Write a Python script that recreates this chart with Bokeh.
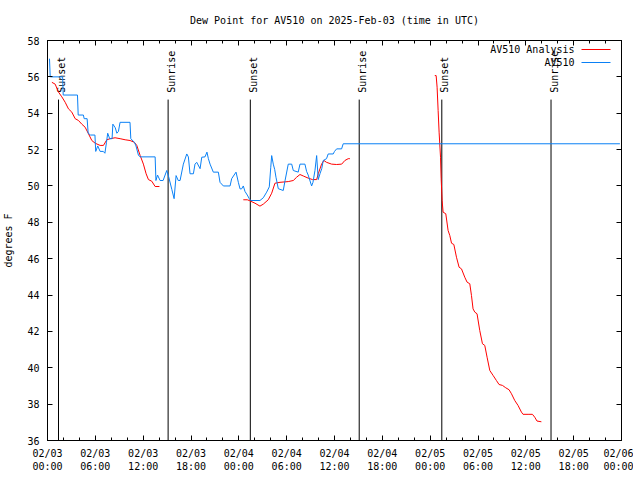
import math
from bokeh.plotting import figure
from bokeh.models import FixedTicker, LinearAxis, Range1d, Label, Arrow
from bokeh.core.properties import value
from bokeh.embed import file_html
from bokeh.resources import INLINE

FONT = "DejaVu Sans Mono"

title_text = "Dew Point for AV510 on 2025-Feb-03 (time in UTC)"
y_label = "degrees F"

# x axis: hours since 2025-02-03 00:00 UTC
x_tick_hours = [0, 6, 12, 18, 24, 30, 36, 42, 48, 54, 60, 66, 72]
x_tick_labels = ["02/03\n00:00", "02/03\n06:00", "02/03\n12:00", "02/03\n18:00",
                 "02/04\n00:00", "02/04\n06:00", "02/04\n12:00", "02/04\n18:00",
                 "02/05\n00:00", "02/05\n06:00", "02/05\n12:00", "02/05\n18:00",
                 "02/06\n00:00"]
x_minor_hours = list(range(0, 73, 2))
y_ticks = [36, 38, 40, 42, 44, 46, 48, 50, 52, 54, 56, 58]

# sunrise / sunset markers
sun_hours = [1.38, 15.13, 25.44, 39.10, 49.46, 63.16]
sun_names = ["Sunset", "Sunrise", "Sunset", "Sunrise", "Sunset", "Sunrise"]
sun_line_top = 54.75
sun_label_y = 55.12

# AV510 observations
obs_hours = [0.25, 0.34, 1.90, 1.97, 3.76, 3.85, 4.50, 4.60, 4.97, 5.10, 5.40, 5.95,
             6.05, 6.30, 6.60, 7.00, 7.20, 7.40, 7.55, 7.80, 8.10, 8.20, 8.50, 8.70,
             8.90, 9.10, 10.35, 10.45, 10.90, 11.10, 11.40, 11.60, 13.50, 13.60, 13.80,
             14.12, 14.50, 14.96, 15.20, 15.60, 15.88, 16.13, 16.40, 16.63, 17.04, 17.47,
             17.67, 17.88, 18.30, 18.50, 18.72, 19.14, 19.35, 19.76, 20.00, 20.18, 20.39,
             20.80, 21.43, 21.64, 22.06, 22.90, 23.10, 23.65, 23.94, 24.15, 24.35, 24.56,
             24.77, 25.06, 25.31, 25.50, 26.65, 27.07, 27.49, 27.82, 28.00, 28.12, 28.32,
             28.50, 28.66, 28.95, 29.57, 29.80, 30.20, 30.63, 30.83, 31.45, 31.67, 32.29,
             32.50, 32.70, 33.13, 33.30, 33.55, 33.76, 33.96, 34.20, 34.40, 34.59, 35.00,
             35.21, 35.84, 36.00, 36.27, 36.89, 37.09, 71.80]
obs_dewpt = [57.0, 56.0, 56.0, 55.0, 55.0, 53.9, 53.9, 53.7, 53.7, 52.9, 52.8, 52.8,
             51.9, 52.2, 51.9, 51.9, 51.8, 52.4, 52.9, 52.6, 52.6, 53.4, 53.2, 52.9,
             53.0, 53.5, 53.5, 52.6, 52.4, 52.2, 51.7, 51.6, 51.6, 50.3, 50.6,
             50.3, 50.3, 50.85, 50.5, 49.8, 49.3, 50.57, 50.3, 50.3, 51.2, 51.76,
             51.6, 50.67, 50.67, 51.2, 51.3, 50.95, 51.58, 51.6, 51.86, 51.5, 51.2,
             50.76, 50.76, 50.2, 50.0, 50.0, 50.4, 50.76, 50.2, 49.84, 49.84, 50.0,
             49.7, 49.5, 49.3, 49.2, 49.2, 49.35, 49.66, 49.95, 51.0, 51.67, 51.2,
             50.9, 50.48, 49.85, 49.75, 50.3, 51.2, 51.2, 50.85, 50.76, 51.2, 51.2,
             50.8, 50.6, 50.0, 50.2, 50.85, 51.67, 50.35, 50.7, 50.95, 51.4, 51.5,
             51.76, 51.76, 51.9, 52.04, 52.04, 52.32, 52.32]

# AV510 analysis (three runs)
ana1_hours = [0.55, 0.96, 1.38, 1.80, 2.22, 2.63, 3.05, 3.47, 3.89, 4.30, 4.72, 5.14,
              5.56, 5.98, 6.60, 7.02, 7.44, 7.86, 8.48, 9.11, 9.74, 10.36, 10.90, 11.20,
              11.62, 12.03, 12.37, 12.66, 13.08, 13.50, 14.04]
ana1_dewpt = [55.7, 55.6, 55.16, 54.9, 54.6, 54.24, 54.06, 53.7, 53.6, 53.4, 53.23, 52.87,
              52.5, 52.35, 52.23, 52.23, 52.54, 52.6, 52.65, 52.6, 52.54, 52.5, 52.4, 52.23,
              51.68, 51.2, 50.67, 50.35, 50.26, 49.97, 49.97]
ana2_hours = [24.56, 25.06, 25.30, 26.03, 26.65, 27.07, 27.69, 28.12, 28.53, 29.16, 30.20,
              30.83, 31.25, 31.67, 32.08, 32.70, 33.25, 33.76, 33.96, 34.38, 34.67, 35.00,
              35.64, 36.27, 36.90, 37.30, 37.72, 37.93]
ana2_dewpt = [49.24, 49.24, 49.2, 49.05, 48.89, 49.0, 49.24, 49.6, 50.15, 50.2, 50.24,
              50.3, 50.48, 50.63, 50.55, 50.43, 50.35, 50.35, 50.67, 51.2, 51.4, 51.3,
              51.2, 51.18, 51.2, 51.4, 51.5, 51.5]
ana3_hours = [48.58, 48.75, 48.87, 49.00, 49.12, 49.30, 49.38, 49.50, 49.62, 49.96, 50.25,
              50.46, 50.68, 50.97, 51.30, 51.63, 51.93, 52.34, 52.63, 52.97, 53.18, 53.38,
              53.60, 53.88, 54.22, 54.56, 54.85, 55.14, 55.48, 55.89, 56.31, 56.64, 57.07,
              57.48, 57.90, 58.20, 58.61, 59.02, 59.45, 59.65, 60.28, 60.83, 61.12, 61.40,
              61.95]
ana3_dewpt = [56.07, 56.07, 55.43, 54.15, 52.96, 51.58, 50.4, 49.2, 48.56, 48.47, 47.55,
              47.28, 46.85, 46.78, 46.08, 45.53, 45.44, 44.98, 44.71, 44.62, 43.98, 43.24,
              43.06, 42.97, 42.05, 41.32, 41.23, 40.58, 39.85, 39.58, 39.3, 39.08, 39.03,
              38.9, 38.79, 38.57, 38.2, 37.93, 37.56, 37.44, 37.44, 37.44, 37.28, 37.07,
              37.03]

legend_names = ["AV510 Analysis", "AV510"]
RED = "#ff0000"
BLUE = "#0a80f5"

p = figure(frame_width=574, frame_height=400,
           x_range=Range1d(0, 72), y_range=Range1d(36, 58),
           output_backend="svg", toolbar_location=None,
           min_border_left=47, min_border_right=12, min_border_top=40, min_border_bottom=32,
           background_fill_color="white", border_fill_color="white")
p.grid.visible = False
p.outline_line_color = "black"
p.outline_line_width = 1

p.title.text = title_text
p.title.align = "center"
p.title.vertical_align = "top"
p.title.text_font = FONT
p.title.text_font_size = "10px"
p.title.text_font_style = "normal"
p.title.text_color = "black"
p.title.standoff = 26

xt = FixedTicker(ticks=x_tick_hours, minor_ticks=x_minor_hours)
yt = FixedTicker(ticks=y_ticks, minor_ticks=[])

bottom = p.xaxis[0]
left = p.yaxis[0]

bottom.ticker = xt
bottom.major_label_overrides = {h: l for h, l in zip(x_tick_hours, x_tick_labels)}
bottom.major_label_standoff = 7
left.ticker = yt
left.major_label_standoff = 8
left.axis_label = y_label
left.axis_label_standoff = 10
left.axis_label_text_font = FONT
left.axis_label_text_font_size = "10px"
left.axis_label_text_font_style = "normal"
left.axis_label_text_color = "black"

top = LinearAxis(ticker=xt, major_label_overrides={h: "" for h in x_tick_hours},
                 major_label_standoff=0)
right = LinearAxis(ticker=yt, major_label_overrides={v: "" for v in y_ticks},
                   major_label_standoff=0)
p.add_layout(top, "above")
p.add_layout(right, "right")

for ax in (bottom, left, top, right):
    ax.major_tick_in = 5
    ax.major_tick_out = 0
    ax.minor_tick_in = 3
    ax.minor_tick_out = 0
    ax.axis_line_color = "black"
    ax.major_tick_line_color = "black"
    ax.minor_tick_line_color = "black"
    ax.major_label_text_font = FONT
    ax.major_label_text_color = "black"
    ax.major_label_text_font_size = "10px"

# sun lines and labels
p.segment(x0=sun_hours, y0=[sun_line_top] * len(sun_hours),
          x1=sun_hours, y1=[36] * len(sun_hours), line_color="black", line_width=1)
p.text(x=sun_hours, y=[sun_label_y] * len(sun_hours), text=sun_names,
       angle=math.pi / 2, text_align="left", text_baseline="middle",
       text_font=value(FONT), text_font_size="10px", text_color="black", x_offset=3)

# series
for hx, dv in ((ana1_hours, ana1_dewpt), (ana2_hours, ana2_dewpt), (ana3_hours, ana3_dewpt)):
    p.line(hx, dv, line_color=RED, line_width=1)
p.line(obs_hours, obs_dewpt, line_color=BLUE, line_width=1)

# legend (gnuplot style: text then line sample), screen units relative to frame
for i, (name, col) in enumerate(zip(legend_names, [RED, BLUE])):
    ys = 391 - 13 * i
    p.add_layout(Label(x=527, y=ys, x_units="screen", y_units="screen", text=name,
                       text_align="right", text_baseline="middle", text_font=FONT,
                       text_font_size="10px", text_color="black"))
    p.add_layout(Arrow(x_start=534, y_start=ys, x_end=563, y_end=ys,
                       start_units="screen", end_units="screen", end=None,
                       line_color=col, line_width=1))

open("out.html", "w").write(file_html(p, INLINE))
